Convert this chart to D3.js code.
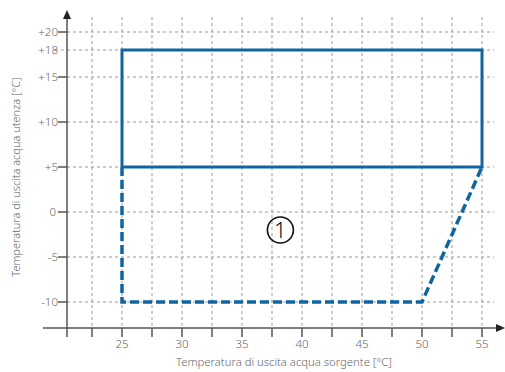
<!DOCTYPE html>
<html>
<head>
<meta charset="utf-8">
<script src="https://cdn.jsdelivr.net/npm/d3@7"></script>
<style>
  body { margin: 0; background: #fff; }
  text { font-family: "Noto Sans", sans-serif; font-weight: 300; fill: #666; }
</style>
</head>
<body>
<script>
const svgW = 505;
const svgH = 372;

// data
const xTicks = [25, 30, 35, 40, 45, 50, 55];
const xMinorTicks = [22.5, 25, 27.5, 30, 32.5, 35, 37.5, 40, 42.5, 45, 47.5, 50, 52.5, 55];
const yTicks = [20, 18, 15, 10, 5, 0, -5, -10];
const yTickLabels = ['+20', '+18', '+15', '+10', '+5', '0', '-5', '-10'];
// limiti di funzionamento (temp. sorgente, temp. utenza)
const solidArea = [[25, 5], [25, 18], [55, 18], [55, 5], [25, 5]];
const dashedArea = [[25, 5], [25, -10], [50, -10], [55, 5]];
const zoneLabel = '1';
const zonePos = [38.2, -2];

const xScale = d3.scaleLinear().domain([25, 55]).range([122, 482]);
const yScale = d3.scaleLinear().domain([-10, 20]).range([302, 32]);
const yBase = yScale(-12.9);
const xAxisPos = 67;

const svg = d3.select('body')
              .append('svg')
              .attr('width', svgW)
              .attr('height', svgH);

// griglia verticale
svg.append('g')
  .selectAll('line')
  .data(xMinorTicks)
  .enter()
  .append('line')
  .attr('x1', d => xScale(d)).attr('x2', d => xScale(d))
  .attr('y1', 17).attr('y2', yBase)
  .attr('stroke', '#999')
  .attr('stroke-width', 1)
  .attr('stroke-dasharray', '3,3');

// griglia orizzontale
svg.append('g')
  .selectAll('line')
  .data(yTicks)
  .enter()
  .append('line')
  .attr('x1', d => d === 18 ? 55 : xAxisPos)
  .attr('x2', 494)
  .attr('y1', d => yScale(d)).attr('y2', d => yScale(d))
  .attr('stroke', '#999')
  .attr('stroke-width', 1)
  .attr('stroke-dasharray', '3,3');

// assi
const axisColor = '#555';
svg.append('line')
  .attr('x1', 43).attr('x2', 498)
  .attr('y1', yBase).attr('y2', yBase)
  .attr('stroke', axisColor).attr('stroke-width', 1.5);
svg.append('path')
  .attr('d', `M505,${yBase} L496,${yBase - 4} L496,${yBase + 4} Z`)
  .attr('fill', '#222');
svg.append('line')
  .attr('x1', xAxisPos).attr('x2', xAxisPos)
  .attr('y1', 18).attr('y2', yBase + 9)
  .attr('stroke', axisColor).attr('stroke-width', 1.5);
svg.append('path')
  .attr('d', `M${xAxisPos},10 L${xAxisPos - 4},19 L${xAxisPos + 4},19 Z`)
  .attr('fill', '#222');

// tacche asse x
svg.append('g')
  .selectAll('line')
  .data(xMinorTicks)
  .enter()
  .append('line')
  .attr('x1', d => xScale(d)).attr('x2', d => xScale(d))
  .attr('y1', yBase).attr('y2', yBase + 9)
  .attr('stroke', axisColor).attr('stroke-width', 1.5);

svg.append('g')
  .selectAll('text')
  .data(xTicks)
  .enter()
  .append('text')
  .attr('x', d => xScale(d))
  .attr('y', yBase + 20)
  .attr('text-anchor', 'middle')
  .attr('font-size', 11.5)
  .text(d => d);

// tacche asse y
svg.append('g')
  .selectAll('line')
  .data(yTicks.filter(d => d !== 18))
  .enter()
  .append('line')
  .attr('x1', xAxisPos - 9).attr('x2', xAxisPos)
  .attr('y1', d => yScale(d)).attr('y2', d => yScale(d))
  .attr('stroke', axisColor).attr('stroke-width', 1.5);

svg.append('g')
  .selectAll('text')
  .data(yTicks)
  .enter()
  .append('text')
  .attr('x', (d, i) => yTickLabels[i] === '0' ? 56 : 58)
  .attr('y', d => yScale(d) + 4)
  .attr('text-anchor', 'end')
  .attr('font-size', 11.5)
  .text((d, i) => yTickLabels[i]);

// titoli assi
svg.append('text')
  .attr('x', 284).attr('y', 366)
  .attr('text-anchor', 'middle')
  .attr('font-size', 11.3)
  .text('Temperatura di uscita acqua sorgente [°C]');
svg.append('text')
  .attr('transform', 'translate(20,177) rotate(-90)')
  .attr('text-anchor', 'middle')
  .attr('font-size', 11)
  .text('Temperatura di uscita acqua utenza [°C]');

// aree di funzionamento
const line = d3.line().x(d => xScale(d[0])).y(d => yScale(d[1]));
const blue = '#0f64a2';
svg.append('path')
  .attr('d', line(dashedArea))
  .attr('fill', 'none')
  .attr('stroke', blue)
  .attr('stroke-width', 3.5)
  .attr('stroke-dasharray', '9,4');
svg.append('path')
  .attr('d', line(solidArea))
  .attr('fill', 'none')
  .attr('stroke', blue)
  .attr('stroke-width', 3);

// zona 1
svg.append('circle')
  .attr('cx', xScale(zonePos[0]))
  .attr('cy', yScale(zonePos[1]))
  .attr('r', 13)
  .attr('fill', 'none')
  .attr('stroke', '#111')
  .attr('stroke-width', 1.6);
svg.append('text')
  .attr('x', xScale(zonePos[0]))
  .attr('y', yScale(zonePos[1]) + 8)
  .attr('text-anchor', 'middle')
  .attr('font-size', 22)
  .attr('font-family', '"DejaVu Sans"')
  .style('fill', '#111')
  .text(zoneLabel);
</script>
</body>
</html>
